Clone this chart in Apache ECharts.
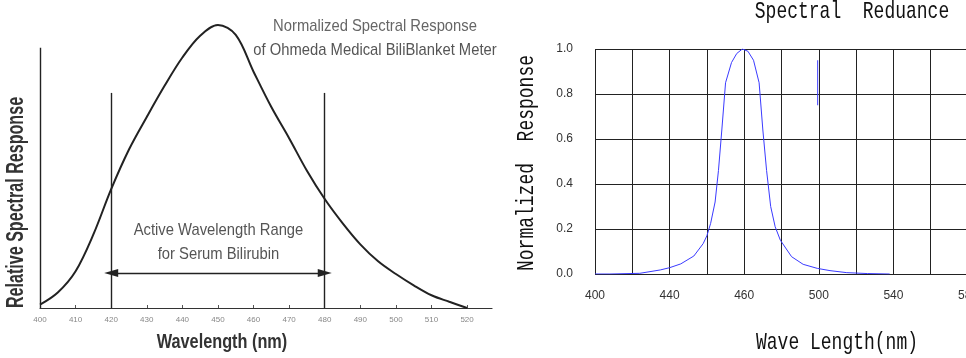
<!DOCTYPE html>
<html>
<head>
<meta charset="utf-8">
<script src="https://cdn.jsdelivr.net/npm/echarts@6/dist/echarts.min.js"></script>
<style>
  html, body { margin: 0; padding: 0; background: #fff; }
  #chart { width: 966px; height: 358px; }
</style>
</head>
<body>
<div id="chart"></div>
<script>
// left panel: BiliBlanket meter response (wavelength in nm, relative response)
var leftWavelength = [400, 405, 410, 415, 420, 425, 430, 435, 440, 445, 450, 455, 460, 465, 470, 475, 480, 485, 490, 495, 500, 505, 510, 515, 520];
var leftResponse   = [0.012, 0.055, 0.13, 0.26, 0.42, 0.56, 0.675, 0.785, 0.885, 0.962, 1.0, 0.965, 0.835, 0.71, 0.6, 0.485, 0.385, 0.3, 0.225, 0.165, 0.12, 0.08, 0.045, 0.022, 0.0];
var leftTicks = [400, 410, 420, 430, 440, 450, 460, 470, 480, 490, 500, 510, 520];
var leftAxisEnd = 527;
var activeRange = [420, 480];

// right panel: spectral response, x counted in grid cells
var rightPos      = [0, 0.4, 1.2, 1.75, 2.0, 2.3, 2.65, 2.9, 3.0, 3.1, 3.22, 3.31, 3.4, 3.5, 3.66, 3.8, 3.95, 4.1, 4.25, 4.4, 4.5, 4.6, 4.71, 4.83, 4.97, 5.27, 5.58, 5.96, 6.3, 6.75, 7.3, 7.9];
var rightResponse = [0, 0, 0.003, 0.018, 0.028, 0.045, 0.08, 0.135, 0.17, 0.225, 0.32, 0.46, 0.64, 0.85, 0.94, 0.98, 1.0, 0.99, 0.95, 0.85, 0.64, 0.46, 0.3, 0.21, 0.15, 0.077, 0.043, 0.025, 0.015, 0.006, 0.002, 0];
var rightTickLabels = ['400', '', '440', '', '460', '', '500', '', '540', '', '580'];
var strayPos = [5.97, 5.97];
var strayResponse = [0.95, 0.75];

function zip(a, b) {
  return a.map(function (v, i) { return [v, b[i]]; });
}

var myChart = echarts.init(document.getElementById('chart'));

var condensed = '"Liberation Sans", Arial, sans-serif';
var mono = '"Liberation Mono", monospace';

function txt(text, x, y, font, fill, extra) {
  var el = {
    type: 'text', x: x, y: y, silent: true,
    style: { text: text, font: font, fill: fill, align: 'center', verticalAlign: 'middle', textAlign: 'center', textVerticalAlign: 'middle' }
  };
  for (var k in extra) el[k] = extra[k];
  return el;
}

var option = {
  animation: false,
  backgroundColor: '#fff',
  grid: [
    { left: 40, top: 25, width: 452, height: 283, outerBoundsMode: 'none' },
    { left: 595, top: 49, width: 373, height: 225, outerBoundsMode: 'none' }
  ],
  xAxis: [
    {
      gridIndex: 0, type: 'value', min: 400, max: leftAxisEnd,
      axisLine: { show: true, lineStyle: { color: '#333', width: 1.2 } },
      axisTick: { show: true, inside: true, length: 3, customValues: leftTicks, lineStyle: { color: '#555' } },
      axisLabel: { customValues: leftTicks, color: '#888', fontSize: 8, margin: 8, fontFamily: condensed },
      splitLine: { show: false }
    },
    {
      gridIndex: 1, type: 'value', min: 0, max: 10, interval: 1,
      axisLine: { show: false },
      axisTick: { show: false },
      axisLabel: {
        color: '#333', fontSize: 12, margin: 16, fontFamily: condensed,
        formatter: function (v) { return rightTickLabels[v] || ''; }
      },
      splitLine: { show: true, lineStyle: { color: '#222', width: 1 } }
    }
  ],
  yAxis: [
    { gridIndex: 0, type: 'value', min: 0, max: 1, show: false },
    {
      gridIndex: 1, type: 'value', min: 0, max: 1, interval: 0.2,
      axisLine: { show: false },
      axisTick: { show: false },
      axisLabel: {
        color: '#333', fontSize: 12, margin: 22, fontFamily: condensed,
        formatter: function (v) { return v.toFixed(1); }
      },
      splitLine: { show: true, lineStyle: { color: '#222', width: 1 } }
    }
  ],
  series: [
    {
      type: 'line', xAxisIndex: 0, yAxisIndex: 0,
      data: zip(leftWavelength, leftResponse),
      smooth: 0.35, symbol: 'none', clip: false,
      lineStyle: { color: '#222', width: 2 },
      markLine: {
        silent: true, symbol: 'none', animation: false,
        label: { show: false },
        lineStyle: { color: '#222', width: 1.4, type: 'solid' },
        emphasis: { disabled: true },
        data: [
          [{ coord: [400, 0] }, { coord: [400, 0.92] }],
          [{ coord: [activeRange[0], 0] }, { coord: [activeRange[0], 0.76] }],
          [{ coord: [activeRange[1], 0] }, { coord: [activeRange[1], 0.76] }],
          [
            { coord: [activeRange[0], 0.124], symbol: 'triangle', symbolSize: [8, 14] },
            { coord: [activeRange[1], 0.124], symbol: 'triangle', symbolSize: [8, 14] }
          ]
        ]
      }
    },
    {
      type: 'line', xAxisIndex: 1, yAxisIndex: 1,
      data: zip(rightPos, rightResponse),
      symbol: 'none',
      lineStyle: { color: '#3a3aff', width: 1 }
    },
    {
      type: 'line', xAxisIndex: 1, yAxisIndex: 1,
      data: zip(strayPos, strayResponse),
      symbol: 'none',
      lineStyle: { color: '#3a3aff', width: 1 }
    }
  ],
  graphic: [
    txt('Relative Spectral Response', 16.5, 202.5, 'bold 23px ' + condensed, '#333', { rotation: Math.PI / 2, scaleX: 0.7 }),
    txt('Wavelength (nm)', 222, 342, 'bold 21px ' + condensed, '#333', { scaleX: 0.775 }),
    txt('Normalized Spectral Response', 375, 26, '17px ' + condensed, '#666', { scaleX: 0.87 }),
    txt('of Ohmeda Medical BiliBlanket Meter', 375, 50, '17px ' + condensed, '#555', { scaleX: 0.87 }),
    txt('Active Wavelength Range', 218.5, 230, '17px ' + condensed, '#555', { scaleX: 0.87 }),
    txt('for Serum Bilirubin', 218.5, 254, '17px ' + condensed, '#555', { scaleX: 0.87 }),
    txt('Spectral  Reduance', 852, 12, '18px ' + mono, '#111', { scaleY: 1.3 }),
    txt('Normalized  Response', 527, 163, '18px ' + mono, '#111', { rotation: Math.PI / 2, scaleY: 1.3 }),
    txt('Wave Length(nm)', 837, 343, '18px ' + mono, '#111', { scaleY: 1.3 })
  ]
};

myChart.setOption(option);

window.addEventListener('resize', function () {
  myChart.resize();
});
</script>
</body>
</html>
